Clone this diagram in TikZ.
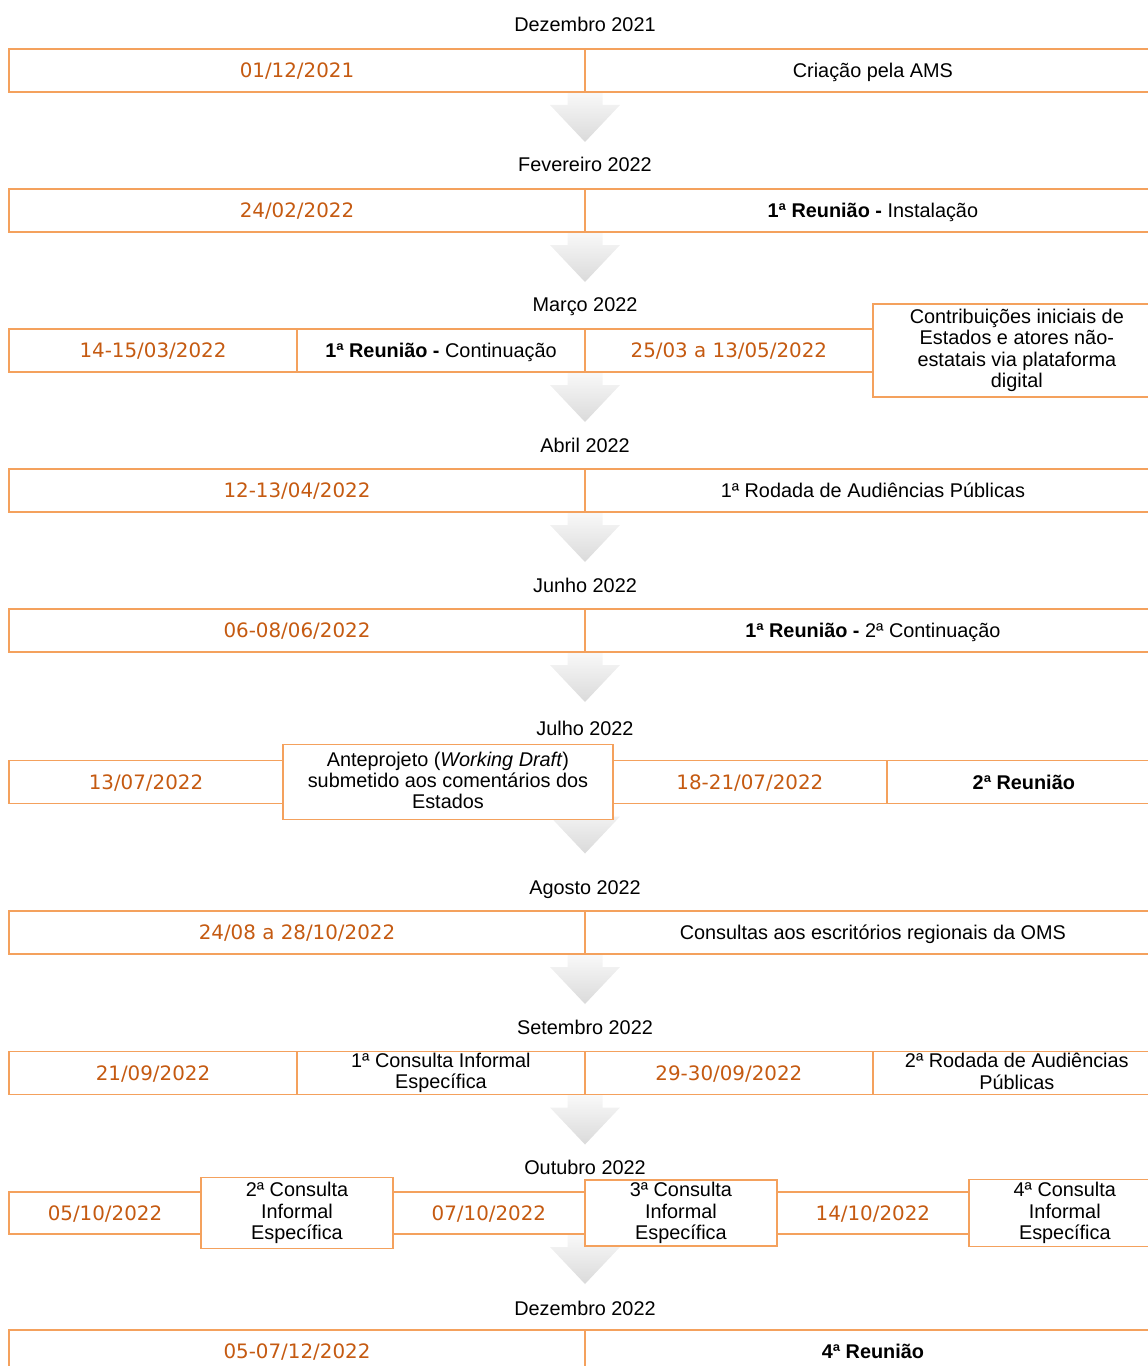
\documentclass[tikz,border=0pt]{standalone}
\usepackage{fontspec}
\setmainfont{Liberation Sans}
\newfontfamily\datefont{DejaVu Sans}
\usetikzlibrary{positioning, backgrounds}
\usepackage{xcolor}

\definecolor{boxline}{HTML}{F4A15D}
\definecolor{datetext}{HTML}{C55A11}
\definecolor{arrowtop}{HTML}{F9F9F9}
\definecolor{arrowbot}{HTML}{DADADA}

\newcommand\bodyfont{\fontsize{11.3pt}{12.2pt}\selectfont}
\newcommand\cellstrut{\rule[-2pt]{0pt}{12pt}}
% grey block arrow hanging down from a point
\newcommand\flowarrow[1]{%
  \shade[top color=arrowtop, bottom color=arrowbot]
    #1 ++(-17.5,0) -- ++(0,13) -- ++(-17.5,0) -- ++(35,37)
    -- ++(35,-37) -- ++(-17.5,0) -- ++(0,-13) -- cycle;}

\tikzset{
  cell/.style={draw=boxline, line width=0.8pt, fill=white, inner sep=0pt,
    outer sep=0pt, minimum height=0.86cm, align=center,
    execute at begin node=\cellstrut, execute at end node=\cellstrut},
  datecell/.style={cell, text=datetext, font={\datefont\bodyfont}},
  monthlabel/.style={inner sep=0pt, anchor=base},
  half/.style={minimum width=11.52cm},
  quarter/.style={minimum width=5.76cm},
}

\begin{document}
\begin{tikzpicture}[x=0.02cm, y=-0.02cm, font=\bodyfont]
  \path[use as bounding box, clip] (0,0) rectangle (1148,1366);

  % Dezembro 2021
  \node[monthlabel] (m1) at (585,31) {Dezembro 2021};
  \node[datecell, half] (d1) at (297,70.5) {01/12/2021};
  \node[cell, half, right=0pt of d1] (t1) {Criação pela AMS};

  % Fevereiro 2022
  \node[monthlabel] (m2) at (585,171) {Fevereiro 2022};
  \node[datecell, half] (d2) at (297,210.5) {24/02/2022};
  \node[cell, half, right=0pt of d2] (t2) {\textbf{1ª Reunião -} Instalação};

  % Marco 2022
  \node[monthlabel] (m3) at (585,311) {Março 2022};
  \node[datecell, quarter] (d3a) at (153,350.5) {14-15/03/2022};
  \node[cell, quarter, right=0pt of d3a] (t3a) {\textbf{1ª Reunião -} Continuação};
  \node[datecell, quarter, right=0pt of t3a] (d3b) {25/03 a 13/05/2022};
  \node[cell, quarter, minimum height=1.86cm, right=0pt of d3b] (t3b)
    {Contribuições iniciais de\\Estados e atores não-\\estatais via plataforma\\digital};

  % Abril 2022
  \node[monthlabel] (m4) at (585,452) {Abril 2022};
  \node[datecell, half] (d4) at (297,490.5) {12-13/04/2022};
  \node[cell, half, right=0pt of d4] (t4) {1ª Rodada de Audiências Públicas};

  % Junho 2022
  \node[monthlabel] (m5) at (585,592) {Junho 2022};
  \node[datecell, half] (d5) at (297,630.5) {06-08/06/2022};
  \node[cell, half, right=0pt of d5] (t5) {\textbf{1ª Reunião -} 2ª Continuação};

  % Julho 2022
  \node[monthlabel] (m6) at (585,735) {Julho 2022};
  \node[datecell, minimum width=5.48cm] (d6a) at (146,782) {13/07/2022};
  \node[cell, minimum width=6.6cm, minimum height=1.5cm, right=0pt of d6a] (t6a)
    {Anteprojeto (\textit{Working Draft})\\submetido aos comentários dos\\Estados};
  \node[datecell, minimum width=5.48cm, right=0pt of t6a] (d6b) {18-21/07/2022};
  \node[cell, minimum width=5.48cm, right=0pt of d6b] (t6b) {\textbf{2ª Reunião}};

  % Agosto 2022
  \node[monthlabel] (m7) at (585,894) {Agosto 2022};
  \node[datecell, half] (d7) at (297,932.5) {24/08 a 28/10/2022};
  \node[cell, half, right=0pt of d7] (t7) {Consultas aos escritórios regionais da OMS};

  % Setembro 2022
  \node[monthlabel] (m8) at (585,1034) {Setembro 2022};
  \node[datecell, quarter] (d8a) at (153,1073) {21/09/2022};
  \node[cell, quarter, right=0pt of d8a] (t8a) {1ª Consulta Informal\\Específica};
  \node[datecell, quarter, right=0pt of t8a] (d8b) {29-30/09/2022};
  \node[cell, quarter, right=0pt of d8b] (t8b) {2ª Rodada de Audiências\\Públicas};

  % Outubro 2022
  \node[monthlabel] (m9) at (585,1174) {Outubro 2022};
  \node[datecell, minimum width=3.84cm, minimum height=0.84cm] (d9a) at (105,1213) {05/10/2022};
  \node[cell, minimum width=3.84cm, minimum height=1.42cm, right=0pt of d9a] (t9a)
    {2ª Consulta\\Informal\\Específica};
  \node[datecell, minimum width=3.84cm, minimum height=0.84cm, right=0pt of t9a] (d9b) {07/10/2022};
  \node[cell, minimum width=3.84cm, minimum height=1.32cm, right=0pt of d9b] (t9b)
    {3ª Consulta\\Informal\\Específica};
  \node[datecell, minimum width=3.84cm, minimum height=0.84cm, right=0pt of t9b] (d9c) {14/10/2022};
  \node[cell, minimum width=3.84cm, minimum height=1.34cm, right=0pt of d9c] (t9c)
    {4ª Consulta\\Informal\\Específica};

  % Dezembro 2022
  \node[monthlabel] (m10) at (585,1315) {Dezembro 2022};
  \node[datecell, half] (d10) at (297,1351.5) {05-07/12/2022};
  \node[cell, half, right=0pt of d10] (t10) {\textbf{4ª Reunião}};

  % arrows between the months
  \begin{scope}[on background layer]
    \flowarrow{(m1 |- d1.south)}
    \flowarrow{(m2 |- d2.south)}
    \flowarrow{(m3 |- d3a.south)}
    \flowarrow{(m4 |- d4.south)}
    \flowarrow{(m5 |- d5.south)}
    \flowarrow{(m6 |- d6a.south)}
    \flowarrow{(m7 |- d7.south)}
    \flowarrow{(m8 |- d8a.south)}
    \flowarrow{(m9 |- d9a.south)}
  \end{scope}
\end{tikzpicture}
\end{document}
